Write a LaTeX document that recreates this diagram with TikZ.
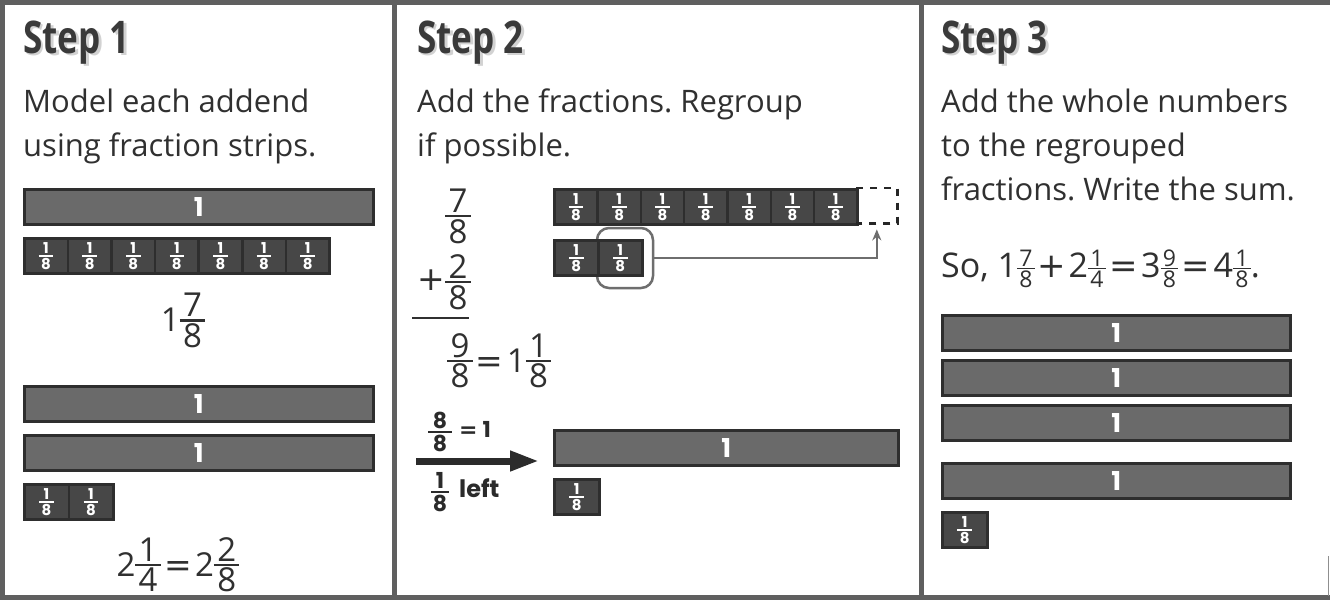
\documentclass[tikz,border=0pt]{standalone}
\usepackage{fontspec}
\setmainfont{Open Sans}
\newfontfamily\headfont{Open Sans}[FakeStretch=0.78]
\newfontfamily\stripfont{Poppins}
\newfontfamily\symfont{DejaVu Sans}
\usetikzlibrary{arrows.meta}
\frenchspacing

\definecolor{frame}{HTML}{5F5F5F}
\definecolor{ink}{HTML}{303030}
\definecolor{headink}{HTML}{3A3A3A}
\definecolor{headshadow}{HTML}{D2D2D2}
\definecolor{wholefill}{HTML}{6A6A6A}
\definecolor{eighthfill}{HTML}{474747}
\definecolor{stripedge}{HTML}{2E2E2E}
\definecolor{linkgray}{HTML}{6E6E6E}
\definecolor{bigarrow}{HTML}{2B2B2B}

% stacked fraction: numerator, bar, denominator (optional side overhang of the bar)
\newcommand\stackfr[3][.1em]{\vtop{\offinterlineskip\halign{\hfil##\hfil\cr
  \kern#1\vphantom{8}#2\kern#1\cr
  \noalign{\kern.06em\hrule height .07em\kern.06em}
  \vphantom{8}#3\cr}}}
% inline fraction next to whole numbers
\newcommand\fr[2]{\raisebox{.44em}{\stackfr{#1}{#2}}}
% small inline fraction used in the final sum
\newcommand\frs[2]{\raisebox{11pt}{\fontsize{23}{23}\selectfont\stackfr{#1}{#2}}}
% wide relation and operator signs
\newcommand\eqs{\kern.1em{\symfont=}\kern.1em}
\newcommand\pls{\kern.08em{\symfont+}\kern.08em}
% label printed on an eighth strip
\newcommand\cellfr{\vtop{\offinterlineskip\halign{\hfil##\hfil\cr
  \kern.3em\vphantom{8}1\kern.3em\cr
  \noalign{\kern.1em\hrule height .12em\kern.1em}
  \vphantom{8}8\cr}}}
% bold fraction used beside the regrouping arrow
\newcommand\lblfr[2]{\vtop{\offinterlineskip\halign{\hfil##\hfil\cr
  \kern.22em\vphantom{8}#1\kern.22em\cr
  \noalign{\kern.08em\hrule height .1em\kern.08em}
  \vphantom{8}#2\cr}}}

\begin{document}
\begin{tikzpicture}[x=1pt,y=-1pt,
  body/.style={anchor=base west, inner sep=0, text=ink, font=\fontsize{31}{36}\selectfont},
  mathtxt/.style={anchor=base, inner sep=0, text=ink, font=\fontsize{33}{40}\selectfont},
  head/.style={anchor=base west, inner sep=0, font=\headfont\bfseries\fontsize{45}{50}\selectfont},
  boldlbl/.style={inner sep=0, text=bigarrow, font=\stripfont\bfseries\fontsize{22}{22}\selectfont},
  whole/.style={anchor=north west, draw=stripedge, fill=wholefill, line width=2.5,
    minimum height=35, minimum width=349, inner sep=0, text=white,
    font=\stripfont\bfseries\fontsize{26}{26}\selectfont},
  eighth/.style={anchor=north west, draw=stripedge, fill=eighthfill, line width=2.5,
    minimum height=35, minimum width=44, inner sep=0, text=white,
    font=\stripfont\bfseries\fontsize{15}{15}\selectfont},
  link/.style={draw=linkgray, line width=2.5, -{Stealth[length=11pt,width=9pt]}},
  panelline/.style={draw=frame, line width=5}
]
\useasboundingbox (0,0) rectangle (1330,600);
\fill[white] (0,0) rectangle (1330,600);

% headings with a soft drop shadow
\foreach \x/\t in {23/1, 417/2, 941/3} {
  \node[head, text=headshadow] at (\x+2.5,55.5) {Step \t};
  \node[head, text=headink] (h\t) at (\x,53) {Step \t};
}

% ---------- Step 1 ----------
\node[body] (p1a) at (23,112) {Model each addend};
\node[body] (p1b) at (23,156) {using fraction strips.};
\node[whole] (w1) at (23,188) {1};
\foreach \i in {0,...,6}
  \node[eighth, minimum width=43.6] (e1\i) at ({23+\i*43.6},237) {\cellfr};
\node[mathtxt] (m1) at (183,331.5) {1\fr{7}{8}};
\node[whole] (w2) at (23,385) {1};
\node[whole] (w3) at (23,434) {1};
\foreach \i in {0,1}
  \node[eighth, minimum width=44.5] (f1\i) at ({23+\i*44.5},483) {\cellfr};
\node[mathtxt] (m2) at (178,576) {2\fr{1}{4}\eqs2\fr{2}{8}};

% ---------- Step 2 ----------
\node[body] (p2a) at (417,112) {Add the fractions. Regroup};
\node[body] (p2b) at (417,156) {if possible.};
\node[mathtxt, anchor=center] (n78) at (458,216) {\stackfr{7}{8}};
\node[mathtxt, anchor=center, font=\symfont\fontsize{33}{40}\selectfont] (plus) at (431,280) {+};
\node[mathtxt, anchor=center] (n28) at (458,282) {\stackfr{2}{8}};
\coordinate (ruleL) at (412,318);
\coordinate (ruleR) at (469,318);
\draw[ink, line width=2] (ruleL) -- (ruleR);
\node[mathtxt, anchor=base west] (m3) at (447,372) {\fr{9}{8}\eqs1\fr{1}{8}};

% ring around the eighth that is moved
\node[draw=linkgray, line width=2.5, rounded corners=12, minimum width=56, minimum height=60, inner sep=0] (ring) at (625,258) {};
\foreach \i in {0,...,6}
  \node[eighth, minimum width=43.3] (e2\i) at ({553+\i*43.3},188) {\cellfr};
\node[anchor=north west, minimum width=41, minimum height=35, inner sep=0] (slot) at (856.1,188) {};
\draw[black!85, line width=2.5, dash pattern=on 7pt off 7pt]
  (slot.north west) -- (slot.north east) -- (slot.south east) -- (slot.south west);
\foreach \i in {0,1}
  \node[eighth, minimum width=44] (g2\i) at ({553+\i*44},239) {\cellfr};
\draw[link] (ring.east) -| ([yshift=-6pt]slot.south);

% regrouping arrow
\node[boldlbl] (q88) at (440,432) {\lblfr{8}{8}};
\node[boldlbl, anchor=base west] (q88r) at (459,437) {{\symfont\bfseries=}\kern5pt1};
\coordinate (arrS) at (416,461);
\coordinate (arrE) at (539,461);
\draw[draw=bigarrow, line width=7, -{Triangle[length=29pt,width=19pt]}] (arrS) -- (arrE);
\node[boldlbl] (q18) at (440,492) {\lblfr{1}{8}};
\node[boldlbl, anchor=base west, font=\stripfont\bfseries\fontsize{24}{24}\selectfont] (q18r) at (459,497) {left};
\node[whole, minimum width=344] (w4) at (553,429) {1};
\node[eighth, minimum width=45] (g3) at (553,478) {\cellfr};

% ---------- Step 3 ----------
\node[body] (p3a) at (941,112) {Add the whole numbers};
\node[body] (p3b) at (941,156) {to the regrouped};
\node[body] (p3c) at (941,200) {fractions. Write the sum.};
\node[body, font=\fontsize{34}{40}\selectfont] (so) at (941,277)
  {So, 1\frs{7}{8}\pls2\frs{1}{4}\eqs3\frs{9}{8}\eqs4\frs{1}{8}.};
\node[whole, minimum width=348] (w5) at (941,314) {1};
\node[whole, minimum width=348] (w6) at (941,359) {1};
\node[whole, minimum width=348] (w7) at (941,404) {1};
\node[whole, minimum width=348] (w8) at (941,462) {1};
\node[eighth, minimum width=45] (g4) at (941,511) {\cellfr};

% ---------- frame ----------
\draw[panelline] (0,2) -- (1330,2);
\draw[panelline] (0,597.5) -- (1330,597.5);
\draw[panelline] (2.5,0) -- (2.5,600);
\draw[panelline] (394.5,0) -- (394.5,600);
\draw[panelline] (921.5,0) -- (921.5,600);
\draw[draw=frame!70, line width=1.2] (1328.5,556) -- (1328.5,596);
\end{tikzpicture}
\end{document}
